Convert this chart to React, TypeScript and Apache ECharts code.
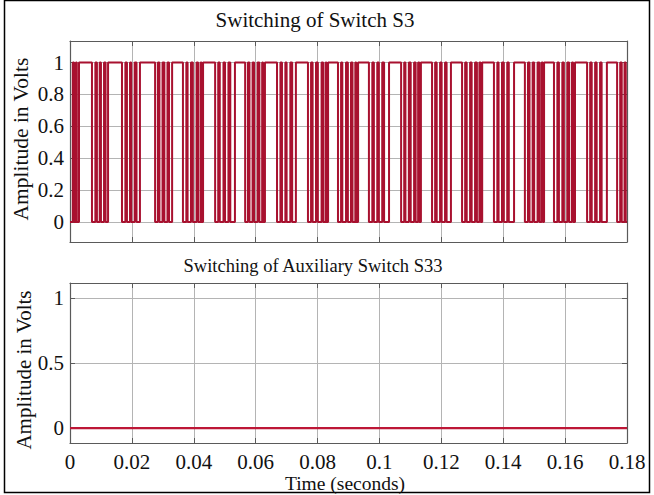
import React, { useEffect, useRef } from "react";
import * as echarts from "echarts";

// Time axis (seconds)
const timeMin = 0;
const timeMax = 0.18;
const timeStep = 0.02;

// Tick labels for the two amplitude axes
const s3Ticks = [0, 0.2, 0.4, 0.6, 0.8, 1];
const s33Ticks = [0, 0.5, 1];

// Switch S3 gate signal: intervals (in ms) during which the switch is ON (level 1)
const s3OnMs: [number, number][] = [
  [0.9, 1.3], [1.9, 2.2], [2.9, 7.1],
  [8.2, 8.7], [9.6, 10.0], [11.0, 11.5], [12.3, 16.8],
  [17.9, 18.4], [19.4, 19.8], [20.9, 21.5], [22.6, 27.5],
  [28.4, 28.9], [29.9, 30.5], [31.5, 32.0], [33.0, 36.5],
  [37.6, 38.0], [39.1, 39.7], [40.9, 41.4], [42.2, 42.5], [43.0, 46.9],
  [47.9, 48.4], [49.6, 50.1], [51.2, 51.8], [53.3, 56.6],
  [57.5, 58.0], [59.0, 59.5], [60.6, 61.2], [62.1, 62.4], [63.0, 66.9],
  [68.0, 68.5], [69.6, 70.0], [71.2, 71.8], [73.0, 76.9],
  [77.9, 78.4], [79.5, 80.1], [81.3, 81.8], [82.6, 82.9], [83.4, 86.6],
  [87.6, 88.0], [89.2, 89.8], [90.8, 91.3], [92.2, 92.5], [93.1, 96.6],
  [97.7, 98.2], [99.3, 99.8], [100.9, 101.5], [103.1, 107.0],
  [108.0, 108.4], [109.5, 110.1], [111.2, 111.7], [112.5, 112.9], [113.4, 117.0],
  [118.0, 118.5], [119.6, 120.1], [121.2, 121.7], [123.1, 126.7],
  [127.7, 128.2], [129.3, 129.8], [130.9, 131.5], [132.3, 132.7], [133.2, 137.0],
  [138.1, 138.5], [139.6, 140.2], [141.3, 141.8], [143.5, 147.0],
  [148.0, 148.5], [149.5, 150.0], [151.1, 151.7], [152.4, 152.8], [153.2, 156.4],
  [157.5, 158.0], [159.1, 159.6], [160.7, 161.3], [162.2, 162.6], [163.2, 167.1],
  [168.1, 168.6], [169.7, 170.2], [171.3, 171.8], [173.5, 176.8],
  [177.8, 178.3], [179.2, 179.6],
];

// Auxiliary switch S33 stays OFF over the whole run
const s33Level: [number, number][] = [
  [0, 0],
  [0.18, 0],
];

const FONT = '"Liberation Serif", "Times New Roman", serif';
const SIGNAL = "#a8112f";

function gatePoints(on: [number, number][], endSec: number): [number, number][] {
  const pts: [number, number][] = [[0, 0]];
  for (const [a, b] of on) {
    const s = a / 1000;
    const e = b / 1000;
    pts.push([s, 0], [s, 1], [e, 1], [e, 0]);
  }
  pts.push([endSec, 0]);
  return pts;
}

const gridLine = { show: true, lineStyle: { color: "#b4b4b4", width: 1 } };
const frameLine = { show: true, onZero: false, lineStyle: { color: "#5a5a5a", width: 1.2 } };
const innerTick = { show: true, inside: true, length: 5, lineStyle: { color: "#5a5a5a", width: 1 } };

function xAxisFor(gridIndex: number, labels: boolean, position: "bottom" | "top") {
  return {
    type: "value",
    gridIndex,
    position,
    min: timeMin,
    max: timeMax,
    interval: timeStep,
    axisLine: frameLine,
    axisTick: innerTick,
    splitLine: position === "bottom" ? gridLine : { show: false },
    axisLabel: labels
      ? { show: true, fontFamily: FONT, fontSize: 21, color: "#111", margin: 8 }
      : { show: false },
  };
}

function yAxisFor(
  gridIndex: number,
  min: number,
  max: number,
  ticks: number[],
  position: "left" | "right"
) {
  const main = position === "left";
  return {
    type: "value",
    gridIndex,
    position,
    min,
    max,
    axisLine: frameLine,
    axisTick: { ...innerTick, customValues: ticks },
    splitLine: main ? gridLine : { show: false },
    axisLabel: main
      ? { show: true, customValues: ticks, fontFamily: FONT, fontSize: 21, color: "#111", margin: 6 }
      : { show: false },
  };
}

export default function App() {
  const ref = useRef<HTMLDivElement>(null);

  useEffect(() => {
    if (!ref.current) return;
    const chart = echarts.init(ref.current, undefined, { renderer: "svg" });

    chart.setOption({
      animation: false,
      backgroundColor: "#ffffff",
      grid: [
        { left: 70, top: 41, width: 557, height: 201, containLabel: false },
        { left: 70, top: 283, width: 557, height: 160, containLabel: false },
      ],
      xAxis: [
        xAxisFor(0, false, "bottom"),
        xAxisFor(1, true, "bottom"),
        xAxisFor(0, false, "top"),
        xAxisFor(1, false, "top"),
      ],
      yAxis: [
        yAxisFor(0, -0.125, 1.135, s3Ticks, "left"),
        yAxisFor(1, -0.115, 1.115, s33Ticks, "left"),
        yAxisFor(0, -0.125, 1.135, s3Ticks, "right"),
        yAxisFor(1, -0.115, 1.115, s33Ticks, "right"),
      ],
      series: [
        {
          type: "line",
          xAxisIndex: 0,
          yAxisIndex: 0,
          data: gatePoints(s3OnMs, timeMax),
          showSymbol: false,
          symbol: "none",
          lineStyle: { color: SIGNAL, width: 2 },
        },
        {
          type: "line",
          xAxisIndex: 1,
          yAxisIndex: 1,
          data: s33Level,
          showSymbol: false,
          symbol: "none",
          lineStyle: { color: "#bd1736", width: 2.2 },
        },
      ],
      graphic: [
        {
          type: "rect",
          shape: { x: 4.5, y: 0.5, width: 645, height: 492 },
          style: { fill: "none", stroke: "#000", lineWidth: 1.5 },
          silent: true,
        },
        {
          type: "text",
          x: 315,
          y: 20,
          style: {
            text: "Switching of Switch S3",
            font: `21px ${FONT}`,
            fill: "#111",
            align: "center",
            verticalAlign: "middle",
          },
        },
        {
          type: "text",
          x: 313,
          y: 266,
          style: {
            text: "Switching of Auxiliary Switch S33",
            font: `18.5px ${FONT}`,
            fill: "#111",
            align: "center",
            verticalAlign: "middle",
          },
        },
        {
          type: "text",
          x: 21,
          y: 139,
          rotation: Math.PI / 2,
          style: {
            text: "Amplitude in Volts",
            font: `21.5px ${FONT}`,
            fill: "#111",
            align: "center",
            verticalAlign: "middle",
          },
        },
        {
          type: "text",
          x: 24,
          y: 370,
          rotation: Math.PI / 2,
          style: {
            text: "Amplitude in Volts",
            font: `21px ${FONT}`,
            fill: "#111",
            align: "center",
            verticalAlign: "middle",
          },
        },
        {
          type: "text",
          x: 345,
          y: 483,
          style: {
            text: "Time (seconds)",
            font: `19.5px ${FONT}`,
            fill: "#111",
            align: "center",
            verticalAlign: "middle",
          },
        },
      ],
    });

    return () => chart.dispose();
  }, []);

  return (
    <div
      ref={ref}
      style={{ position: "fixed", left: 0, top: 0, width: 654, height: 495 }}
    />
  );
}
